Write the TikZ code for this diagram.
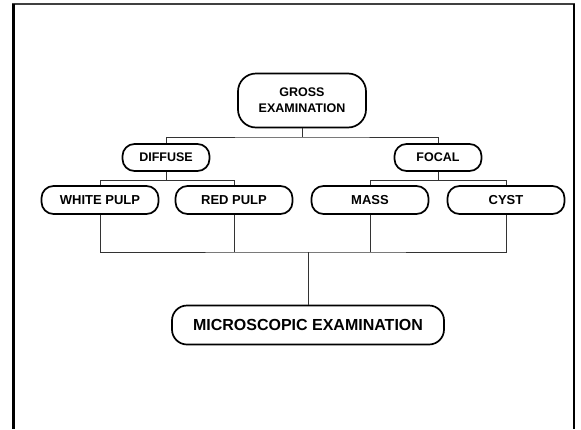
\documentclass[tikz,border=0pt]{standalone}
\usepackage{fontspec}
\setmainfont{Liberation Sans}
\begin{document}
\begin{tikzpicture}[x=1pt,y=-1pt,
  box/.style={draw=black, line width=1.7pt, rounded corners=12pt, inner sep=0pt, align=center,
              font=\bfseries\fontsize{12.5}{15}\selectfont},
  leaf/.style={box, minimum width=117pt, minimum height=28pt, font=\bfseries\fontsize{13}{15}\selectfont},
  mid/.style={box, minimum width=87pt, minimum height=27pt},
  conn/.style={draw=black!80, line width=0.9pt}]
\useasboundingbox (0,0) rectangle (581,429);
% frame
\draw[line width=1.3pt, black!75] (12,4) -- (575,4);
\draw[line width=3pt] (13.5,3.5) -- (13.5,429);
\draw[line width=2.5pt] (574,3.5) -- (574,429);

% nodes
\node[box, rounded corners=18pt, minimum width=128pt, minimum height=54pt, font=\bfseries\fontsize{12.5}{16}\selectfont] (gross) at (302,100.5) {GROSS\\EXAMINATION};
\node[mid] (diffuse) at (166,157.5) {DIFFUSE};
\node[mid] (focal) at (438,157.5) {FOCAL};
\node[leaf] (white) at (100,200) {WHITE PULP};
\node[leaf] (red) at (234,200) {RED PULP};
\node[leaf] (mass) at (370,200) {MASS};
\node[leaf] (cyst) at (506,200) {CYST};
\node[box, rounded corners=15pt, minimum width=272pt, minimum height=39pt, font=\bfseries\fontsize{16}{18}\selectfont] (micro) at (308,325) {MICROSCOPIC EXAMINATION};

% junctions
\coordinate (j1) at (302,137);
\coordinate (j2) at (166,180.5);
\coordinate (j3) at (438,180.5);
\coordinate (j4) at (308,252);

% connectors
\draw[conn] (gross.south) -- (j1);
\draw[conn] (diffuse.north) |- (j1) -| (focal.north);
\draw[conn] (diffuse.south) -- (j2);
\draw[conn] (white.north) |- (j2) -| (red.north);
\draw[conn] (focal.south) -- (j3);
\draw[conn] (mass.north) |- (j3) -| (cyst.north);
\draw[conn] (white.south) |- (j4) -| (cyst.south);
\draw[conn] (red.south) -- (red.south |- j4);
\draw[conn] (mass.south) -- (mass.south |- j4);
\draw[conn] (j4) -- (micro.north);
\end{tikzpicture}
\end{document}
